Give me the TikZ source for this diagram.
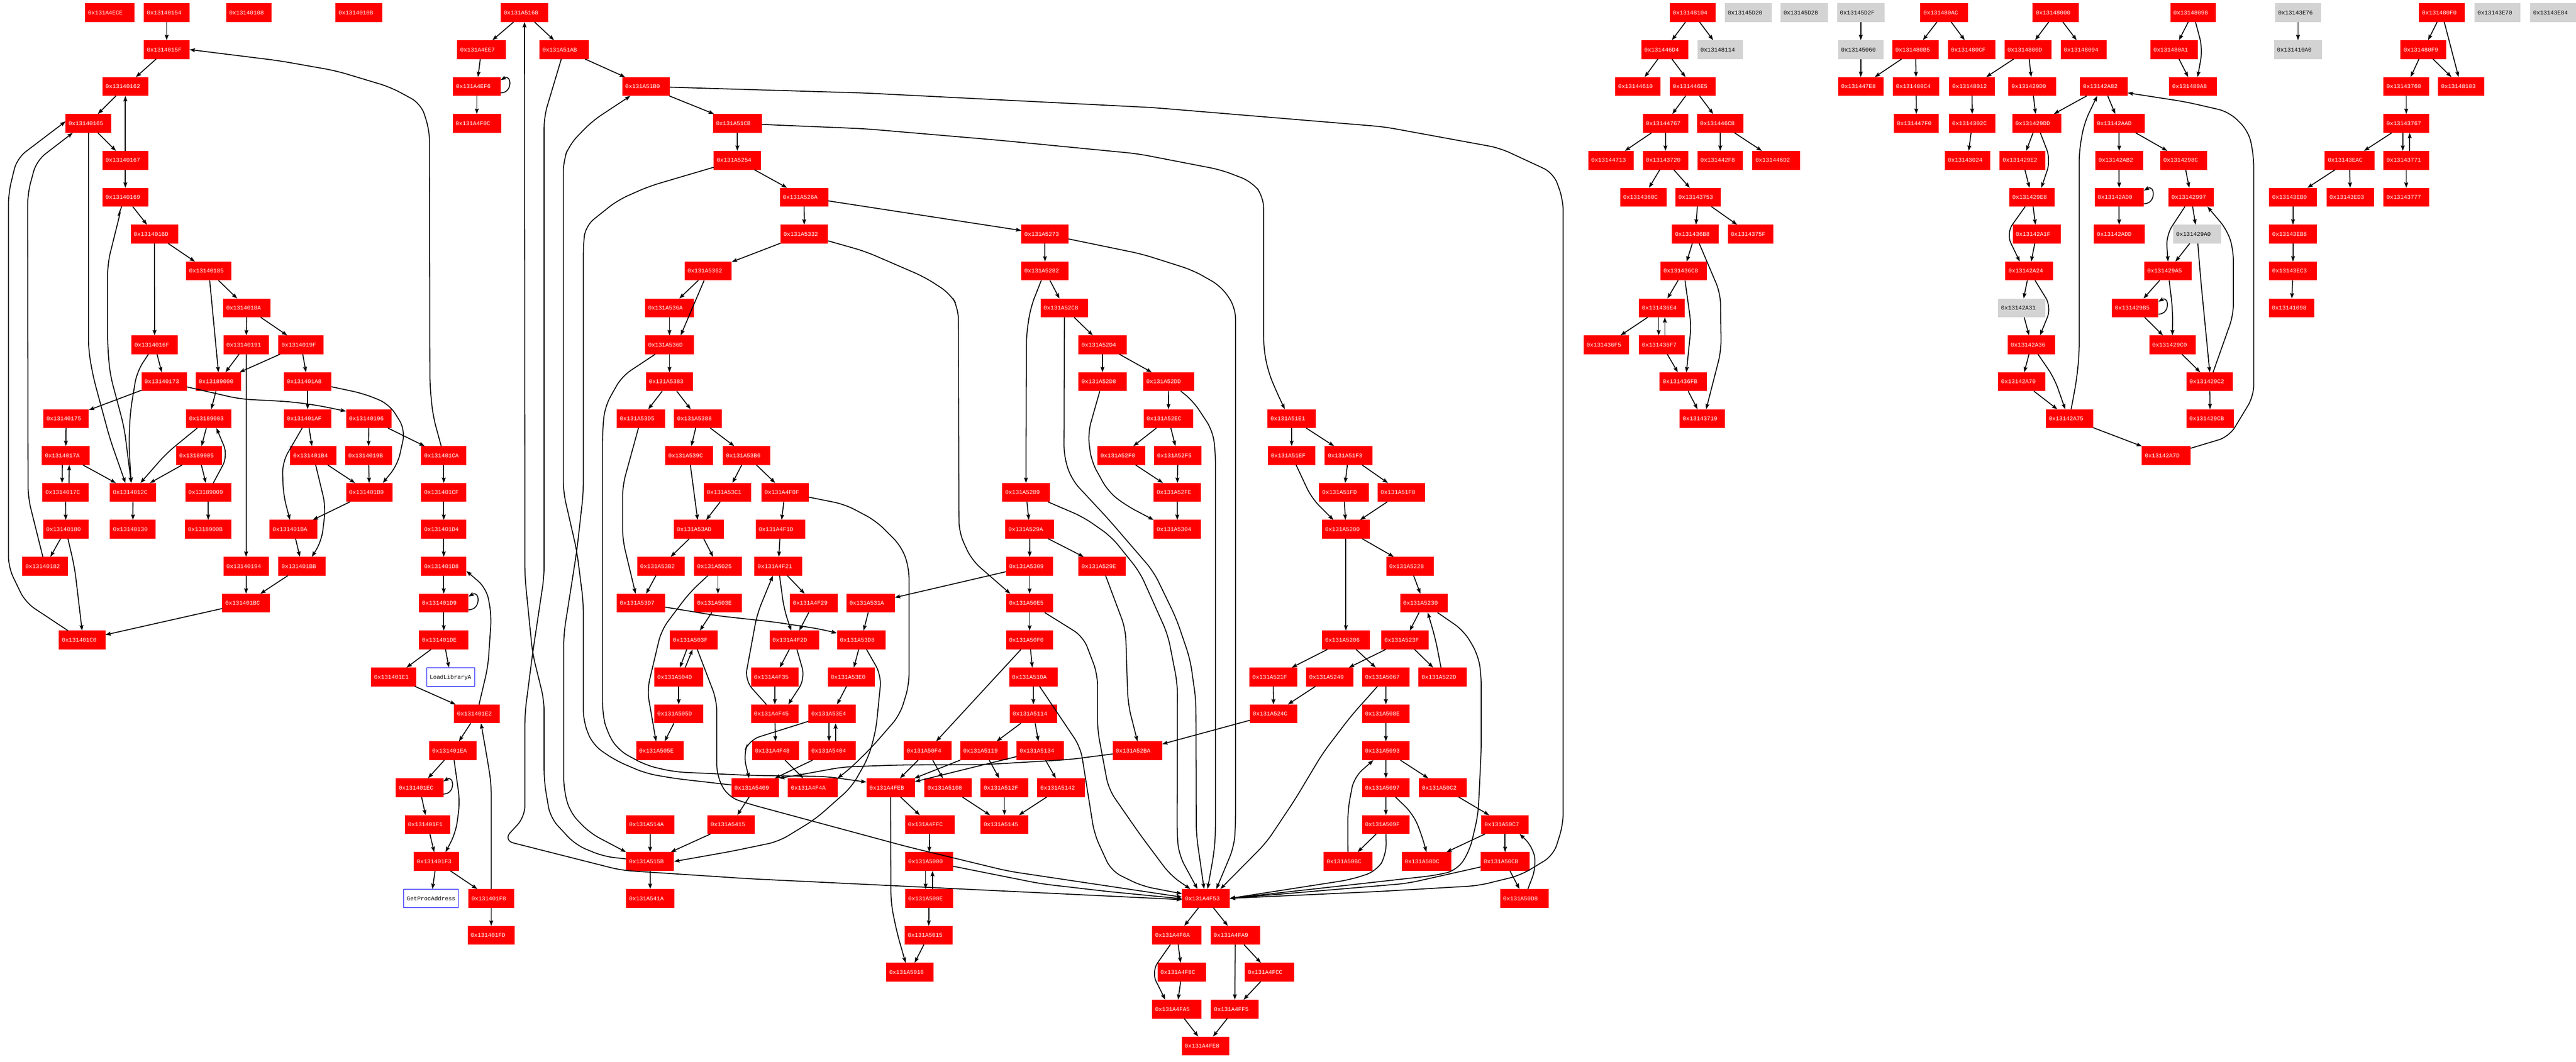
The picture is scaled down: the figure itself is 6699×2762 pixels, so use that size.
\documentclass[tikz,border=0pt]{standalone}
\usepackage{fontspec}
\setmonofont{Liberation Mono}
\usetikzlibrary{arrows.meta}
\definecolor{blockgray}{HTML}{D3D3D3}
\begin{document}
\begin{tikzpicture}[
      x=1pt,y=-1pt,
      blockbox/.style={
         rectangle,
         outer sep=0pt,
         inner xsep=8pt,
         inner ysep=0pt,
         minimum height=49pt,
         text width=#1pt-16pt,
         align=left,
         text height=10pt,
         text depth=0pt,
         font=\ttfamily\fontsize{15}{15}\selectfont
      },
      redbox/.style={blockbox=#1,fill=red,text=white},
      graybox/.style={blockbox=#1,fill=blockgray,text=black},
      whitebox/.style={blockbox=#1,fill=white,text=black,draw=blue,line width=0.8pt},
      >={Stealth[length=14pt,width=10pt,inset=2pt]},
      tip/.style={->,line width=2.4pt,draw=black},
      curvy/.style={tip,rounded corners=28pt},
      selfloop/.style={out=0,in=30,looseness=2.5}
    ]
    \useasboundingbox (0,0) rectangle (6699,2762);
    \node (nA4ECE) [redbox=129] at (285.5,33) {0x131A4ECE};
    \node (n40154) [redbox=119] at (433.5,33) {0x13140154};
    \node (n40108) [redbox=118] at (647,33) {0x13140108};
    \node (n4010B) [redbox=121] at (933,33) {0x1314010B};
    \node (n4015F) [redbox=119] at (433.5,129) {0x1314015F};
    \node (n40162) [redbox=119] at (326,225) {0x13140162};
    \node (n40165) [redbox=119] at (230,321) {0x13140165};
    \node (n40167) [redbox=119] at (326,417) {0x13140167};
    \node (n40169) [redbox=119] at (326,513) {0x13140169};
    \node (n4016D) [redbox=123] at (401.5,609) {0x1314016D};
    \node (n40185) [redbox=118] at (543,705) {0x13140185};
    \node (n4018A) [redbox=123] at (642,801) {0x1314018A};
    \node (n4016F) [redbox=120] at (402,897) {0x1314016F};
    \node (n40191) [redbox=118] at (640,897) {0x13140191};
    \node (n4019F) [redbox=118] at (783,897) {0x1314019F};
    \node (n40173) [redbox=118] at (427,993) {0x13140173};
    \node (n89000) [redbox=118] at (568,993) {0x13189000};
    \node (n401A8) [redbox=124] at (800,993) {0x131401A8};
    \node (n40175) [redbox=118] at (172,1089) {0x13140175};
    \node (n89003) [redbox=118] at (543,1089) {0x13189003};
    \node (n401AF) [redbox=124] at (800,1089) {0x131401AF};
    \node (n40196) [redbox=118] at (959,1089) {0x13140196};
    \node (n4017A) [redbox=124] at (171,1185) {0x1314017A};
    \node (n89005) [redbox=119] at (517.5,1185) {0x13189005};
    \node (n401B4) [redbox=121] at (815,1185) {0x131401B4};
    \node (n4019B) [redbox=121] at (958.5,1185) {0x1314019B};
    \node (n401CA) [redbox=118] at (1154,1185) {0x131401CA};
    \node (n4017C) [redbox=121] at (170.5,1281) {0x1314017C};
    \node (n4012C) [redbox=121] at (346,1281) {0x1314012C};
    \node (n89009) [redbox=119] at (541.5,1281) {0x13189009};
    \node (n401B9) [redbox=121] at (960.5,1281) {0x131401B9};
    \node (n401CF) [redbox=118] at (1154,1281) {0x131401CF};
    \node (n40180) [redbox=118] at (171,1377) {0x13140180};
    \node (n40130) [redbox=119] at (345.5,1377) {0x13140130};
    \node (n8900B) [redbox=121] at (541.5,1377) {0x1318900B};
    \node (n401BA) [redbox=124] at (763,1377) {0x131401BA};
    \node (n401D4) [redbox=118] at (1154,1377) {0x131401D4};
    \node (n40182) [redbox=119] at (117.5,1473) {0x13140182};
    \node (n40194) [redbox=118] at (640,1473) {0x13140194};
    \node (n401BB) [redbox=123] at (785.5,1473) {0x131401BB};
    \node (n401D8) [redbox=118] at (1154,1473) {0x131401D8};
    \node (n401BC) [redbox=124] at (640,1569) {0x131401BC};
    \node (n401D9) [redbox=129] at (1154,1569) {0x131401D9};
    \node (n401C0) [redbox=121] at (213.5,1665) {0x131401C0};
    \node (n401DE) [redbox=129] at (1154,1665) {0x131401DE};
    \node (n401E1) [redbox=118] at (1024,1761) {0x131401E1};
    \node (nLoadLib) [whitebox=125] at (1172,1761) {LoadLibraryA};
    \node (n401E2) [redbox=118] at (1240,1857) {0x131401E2};
    \node (n401EA) [redbox=123] at (1177.5,1953) {0x131401EA};
    \node (n401EC) [redbox=124] at (1091,2049) {0x131401EC};
    \node (n401F1) [redbox=118] at (1112,2145) {0x131401F1};
    \node (n401F3) [redbox=118] at (1135,2241) {0x131401F3};
    \node (nGetProc) [whitebox=142] at (1121,2337) {GetProcAddress};
    \node (n401F8) [redbox=119] at (1277.5,2337) {0x131401F8};
    \node (n401FD) [redbox=123] at (1277.5,2433) {0x131401FD};
    \node (nA5168) [redbox=124] at (1364,33) {0x131A5168};
    \node (nA4EE7) [redbox=126] at (1252,129) {0x131A4EE7};
    \node (nA51AB) [redbox=129] at (1467,129) {0x131A51AB};
    \node (nA4EF6) [redbox=124] at (1240,225) {0x131A4EF6};
    \node (nA51B0) [redbox=124] at (1680,225) {0x131A51B0};
    \node (nA4F0C) [redbox=126] at (1240,321) {0x131A4F0C};
    \node (nA51CB) [redbox=127] at (1917.5,321) {0x131A51CB};
    \node (nA5254) [redbox=123] at (1917.5,417) {0x131A5254};
    \node (nA526A) [redbox=126] at (2091,513) {0x131A526A};
    \node (nA5332) [redbox=124] at (2091.5,609) {0x131A5332};
    \node (nA5273) [redbox=123] at (2717.5,609) {0x131A5273};
    \node (nA5362) [redbox=123] at (1841.5,705) {0x131A5362};
    \node (nA5282) [redbox=123] at (2717.5,705) {0x131A5282};
    \node (nA536A) [redbox=127] at (1741,801) {0x131A536A};
    \node (nA52C8) [redbox=124] at (2768,801) {0x131A52C8};
    \node (nA536D) [redbox=127] at (1741,897) {0x131A536D};
    \node (nA52D4) [redbox=125] at (2867,897) {0x131A52D4};
    \node (nA5383) [redbox=123] at (1741,993) {0x131A5383};
    \node (nA52D8) [redbox=125] at (2867,993) {0x131A52D8};
    \node (nA52DD) [redbox=132] at (3039,993) {0x131A52DD};
    \node (nA53D5) [redbox=126] at (1667,1089) {0x131A53D5};
    \node (nA5388) [redbox=124] at (1815,1089) {0x131A5388};
    \node (nA52EC) [redbox=129] at (3038.5,1089) {0x131A52EC};
    \node (nA51E1) [redbox=126] at (3359,1089) {0x131A51E1};
    \node (nA539C) [redbox=124] at (1792,1185) {0x131A539C};
    \node (nA53B6) [redbox=123] at (1941.5,1185) {0x131A53B6};
    \node (nA52F0) [redbox=124] at (2916,1185) {0x131A52F0};
    \node (nA52F5) [redbox=124] at (3063,1185) {0x131A52F5};
    \node (nA51EF) [redbox=124] at (3359,1185) {0x131A51EF};
    \node (nA51F3) [redbox=124] at (3507,1185) {0x131A51F3};
    \node (nA53C1) [redbox=124] at (1892,1281) {0x131A53C1};
    \node (nA4F0F) [redbox=123] at (2041.5,1281) {0x131A4F0F};
    \node (nA5289) [redbox=124] at (2668,1281) {0x131A5289};
    \node (nA52FE) [redbox=123] at (3061.5,1281) {0x131A52FE};
    \node (nA51FD) [redbox=129] at (3495,1281) {0x131A51FD};
    \node (nA51F8) [redbox=124] at (3644.5,1281) {0x131A51F8};
    \node (nA53AD) [redbox=131] at (1817.5,1377) {0x131A53AD};
    \node (nA4F1D) [redbox=129] at (2029.5,1377) {0x131A4F1D};
    \node (nA529A) [redbox=127] at (2678,1377) {0x131A529A};
    \node (nA5304) [redbox=123] at (3061.5,1377) {0x131A5304};
    \node (nA5200) [redbox=124] at (3500,1377) {0x131A5200};
    \node (nA53B2) [redbox=124] at (1719,1473) {0x131A53B2};
    \node (nA5025) [redbox=124] at (1867,1473) {0x131A5025};
    \node (nA4F21) [redbox=124] at (2024,1473) {0x131A4F21};
    \node (nA5309) [redbox=123] at (2677.5,1473) {0x131A5309};
    \node (nA529E) [redbox=123] at (2866,1473) {0x131A529E};
    \node (nA5228) [redbox=124] at (3667,1473) {0x131A5228};
    \node (nA53D7) [redbox=126] at (1667,1569) {0x131A53D7};
    \node (nA503E) [redbox=124] at (1867,1569) {0x131A503E};
    \node (nA4F29) [redbox=124] at (2116,1569) {0x131A4F29};
    \node (nA531A) [redbox=126] at (2264,1569) {0x131A531A};
    \node (nA50E5) [redbox=123] at (2677.5,1569) {0x131A50E5};
    \node (nA5230) [redbox=124] at (3703,1569) {0x131A5230};
    \node (nA503F) [redbox=124] at (1804,1665) {0x131A503F};
    \node (nA4F2D) [redbox=129] at (2065.5,1665) {0x131A4F2D};
    \node (nA53D8) [redbox=126] at (2239.5,1665) {0x131A53D8};
    \node (nA50F0) [redbox=123] at (2677.5,1665) {0x131A50F0};
    \node (nA5206) [redbox=124] at (3500,1665) {0x131A5206};
    \node (nA523F) [redbox=123] at (3653.5,1665) {0x131A523F};
    \node (nA504D) [redbox=127] at (1765,1761) {0x131A504D};
    \node (nA4F35) [redbox=124] at (2015,1761) {0x131A4F35};
    \node (nA53E0) [redbox=123] at (2214,1761) {0x131A53E0};
    \node (nA510A) [redbox=126] at (2687,1761) {0x131A510A};
    \node (nA521F) [redbox=124] at (3311,1761) {0x131A521F};
    \node (nA5249) [redbox=123] at (3458,1761) {0x131A5249};
    \node (nA5067) [redbox=124] at (3604,1761) {0x131A5067};
    \node (nA522D) [redbox=126] at (3752,1761) {0x131A522D};
    \node (nA505D) [redbox=127] at (1765,1857) {0x131A505D};
    \node (nA4F45) [redbox=124] at (2015,1857) {0x131A4F45};
    \node (nA53E4) [redbox=124] at (2164,1857) {0x131A53E4};
    \node (nA5114) [redbox=124] at (2687.5,1857) {0x131A5114};
    \node (nA524C) [redbox=124] at (3312,1857) {0x131A524C};
    \node (nA508E) [redbox=124] at (3604,1857) {0x131A508E};
    \node (nA505E) [redbox=124] at (1716,1953) {0x131A505E};
    \node (nA4F48) [redbox=123] at (2017,1953) {0x131A4F48};
    \node (nA5404) [redbox=124] at (2164,1953) {0x131A5404};
    \node (nA50F4) [redbox=124] at (2412,1953) {0x131A50F4};
    \node (nA5119) [redbox=124] at (2559,1953) {0x131A5119};
    \node (nA5134) [redbox=123] at (2705,1953) {0x131A5134};
    \node (nA52BA) [redbox=129] at (2958,1953) {0x131A52BA};
    \node (nA5093) [redbox=124] at (3604,1953) {0x131A5093};
    \node (nA5409) [redbox=124] at (1964,2049) {0x131A5409};
    \node (nA4F4A) [redbox=129] at (2113.5,2049) {0x131A4F4A};
    \node (nA4FEB) [redbox=126] at (2316,2049) {0x131A4FEB};
    \node (nA5108) [redbox=123] at (2465.5,2049) {0x131A5108};
    \node (nA512F) [redbox=124] at (2612,2049) {0x131A512F};
    \node (nA5142) [redbox=124] at (2759.5,2049) {0x131A5142};
    \node (nA5097) [redbox=124] at (3604,2049) {0x131A5097};
    \node (nA50C2) [redbox=124] at (3752,2049) {0x131A50C2};
    \node (nA514A) [redbox=126] at (1691,2145) {0x131A514A};
    \node (nA5415) [redbox=123] at (1901.5,2145) {0x131A5415};
    \node (nA4FFC) [redbox=129] at (2418,2145) {0x131A4FFC};
    \node (nA5145) [redbox=124] at (2612,2145) {0x131A5145};
    \node (nA509F) [redbox=124] at (3604,2145) {0x131A509F};
    \node (nA50C7) [redbox=123] at (3914,2145) {0x131A50C7};
    \node (nA515B) [redbox=125] at (1690.5,2241) {0x131A515B};
    \node (nA5000) [redbox=124] at (2416,2241) {0x131A5000};
    \node (nA50BC) [redbox=127] at (3505.5,2241) {0x131A50BC};
    \node (nA50DC) [redbox=129] at (3709.5,2241) {0x131A50DC};
    \node (nA50CB) [redbox=127] at (3914,2241) {0x131A50CB};
    \node (nA541A) [redbox=126] at (1691,2337) {0x131A541A};
    \node (nA500E) [redbox=124] at (2416,2337) {0x131A500E};
    \node (nA4F53) [redbox=124] at (3136,2337) {0x131A4F53};
    \node (nA50D8) [redbox=126] at (3964,2337) {0x131A50D8};
    \node (nA5015) [redbox=124] at (2415,2433) {0x131A5015};
    \node (nA4F6A) [redbox=129] at (3060.5,2433) {0x131A4F6A};
    \node (nA4FA9) [redbox=129] at (3212.5,2433) {0x131A4FA9};
    \node (nA5016) [redbox=123] at (2366,2529) {0x131A5016};
    \node (nA4F8C) [redbox=127] at (3073.5,2529) {0x131A4F8C};
    \node (nA4FCC) [redbox=129] at (3301.5,2529) {0x131A4FCC};
    \node (nA4FA5) [redbox=129] at (3060.5,2625) {0x131A4FA5};
    \node (nA4FF5) [redbox=124] at (3211,2625) {0x131A4FF5};
    \node (nA4FE8) [redbox=124] at (3135,2721) {0x131A4FE8};
    \node (n48104) [redbox=119] at (4401.5,33) {0x13148104};
    \node (n45D20) [graybox=122] at (4546,33) {0x13145D20};
    \node (n45D28) [graybox=124] at (4692,33) {0x13145D28};
    \node (n45D2F) [graybox=124] at (4839,33) {0x13145D2F};
    \node (n480AC) [redbox=124] at (5056,33) {0x131480AC};
    \node (n48000) [redbox=120] at (5346,33) {0x13148000};
    \node (n48098) [redbox=118] at (5703,33) {0x13148098};
    \node (n43E76) [graybox=119] at (5976,33) {0x13143E76};
    \node (n480F0) [redbox=119] at (6350,33) {0x131480F0};
    \node (n43E70) [graybox=119] at (6494.5,33) {0x13143E70};
    \node (n43E84) [graybox=119] at (6639,33) {0x13143E84};
    \node (n446D4) [redbox=123] at (4329.5,129) {0x131446D4};
    \node (n48114) [graybox=119] at (4473.5,129) {0x13148114};
    \node (n45060) [graybox=118] at (4839,129) {0x13145060};
    \node (n480B5) [redbox=121] at (4981.5,129) {0x131480B5};
    \node (n480CF) [redbox=124] at (5127.5,129) {0x131480CF};
    \node (n4800D) [redbox=123] at (5274,129) {0x1314800D};
    \node (n48094) [redbox=120] at (5419,129) {0x13148094};
    \node (n480A1) [redbox=124] at (5654,129) {0x131480A1};
    \node (n410A0) [graybox=125] at (5976,129) {0x131410A0};
    \node (n480F9) [redbox=119] at (6302,129) {0x131480F9};
    \node (n44610) [redbox=118] at (4259,225) {0x13144610};
    \node (n446E5) [redbox=119] at (4401.5,225) {0x131446E5};
    \node (n447E8) [redbox=118] at (4839,225) {0x131447E8};
    \node (n480C4) [redbox=121] at (4983,225) {0x131480C4};
    \node (n48012) [redbox=118] at (5128,225) {0x13148012};
    \node (n429D0) [redbox=124] at (5285,225) {0x131429D0};
    \node (n42A82) [redbox=124] at (5471,225) {0x13142A82};
    \node (n480A8) [redbox=124] at (5703,225) {0x131480A8};
    \node (n43760) [redbox=119] at (6257.5,225) {0x13143760};
    \node (n48103) [redbox=120] at (6400,225) {0x13148103};
    \node (n44767) [redbox=118] at (4331,321) {0x13144767};
    \node (n446C8) [redbox=121] at (4473.5,321) {0x131446C8};
    \node (n447F0) [redbox=117] at (4983.5,321) {0x131447F0};
    \node (n4302C) [redbox=121] at (5129,321) {0x1314302C};
    \node (n429DD) [redbox=127] at (5296.5,321) {0x131429DD};
    \node (n42AAD) [redbox=132] at (5511,321) {0x13142AAD};
    \node (n43767) [redbox=119] at (6257.5,321) {0x13143767};
    \node (n44713) [redbox=119] at (4189.5,417) {0x13144713};
    \node (n43720) [redbox=118] at (4331,417) {0x13143720};
    \node (n442F8) [redbox=119] at (4473.5,417) {0x131442F8};
    \node (n446D2) [redbox=124] at (4619,417) {0x131446D2};
    \node (n43024) [redbox=118] at (5116.5,417) {0x13143024};
    \node (n429E2) [redbox=119] at (5259.5,417) {0x131429E2};
    \node (n42AB2) [redbox=124] at (5511,417) {0x13142AB2};
    \node (n4298C) [redbox=122] at (5679,417) {0x1314298C};
    \node (n43EAC) [redbox=129] at (6110,417) {0x13143EAC};
    \node (n43771) [redbox=119] at (6257.5,417) {0x13143771};
    \node (n4360C) [redbox=121] at (4273.5,513) {0x1314360C};
    \node (n43753) [redbox=118] at (4416,513) {0x13143753};
    \node (n429E8) [redbox=118] at (5284,513) {0x131429E8};
    \node (n42AD0) [redbox=128] at (5511,513) {0x13142AD0};
    \node (n42997) [redbox=118] at (5698,513) {0x13142997};
    \node (n43EB0) [redbox=124] at (5963,513) {0x13143EB0};
    \node (n43ED3) [redbox=124] at (6112,513) {0x13143ED3};
    \node (n43777) [redbox=119] at (6257.5,513) {0x13143777};
    \node (n436B8) [redbox=121] at (4408.5,609) {0x131436B8};
    \node (n4375F) [redbox=118] at (4552,609) {0x1314375F};
    \node (n42A1F) [redbox=125] at (5296.5,609) {0x13142A1F};
    \node (n42ADD) [redbox=132] at (5511,609) {0x13142ADD};
    \node (n429A0) [graybox=125] at (5713.5,609) {0x131429A0};
    \node (n43EB8) [redbox=124] at (5963,609) {0x13143EB8};
    \node (n436C8) [redbox=121] at (4378.5,705) {0x131436C8};
    \node (n42A24) [redbox=124] at (5277,705) {0x13142A24};
    \node (n429A5) [redbox=124] at (5638,705) {0x131429A5};
    \node (n43EC3) [redbox=124] at (5963,705) {0x13143EC3};
    \node (n436E4) [redbox=119] at (4321.5,801) {0x131436E4};
    \node (n42A31) [graybox=123] at (5257.5,801) {0x13142A31};
    \node (n429B5) [redbox=121] at (5552.5,801) {0x131429B5};
    \node (n41098) [redbox=118] at (5959,801) {0x13141098};
    \node (n436F5) [redbox=119] at (4177.5,897) {0x131436F5};
    \node (n436F7) [redbox=119] at (4321.5,897) {0x131436F7};
    \node (n42A36) [redbox=124] at (5283,897) {0x13142A36};
    \node (n429C0) [redbox=121] at (5649.5,897) {0x131429C0};
    \node (n436FB) [redbox=123] at (4377.5,993) {0x131436FB};
    \node (n42A70) [redbox=123] at (5257.5,993) {0x13142A70};
    \node (n429C2) [redbox=121] at (5746.5,993) {0x131429C2};
    \node (n43719) [redbox=118] at (4427,1089) {0x13143719};
    \node (n42A75) [redbox=123] at (5381.5,1089) {0x13142A75};
    \node (n429CB) [redbox=124] at (5747.5,1089) {0x131429CB};
    \node (n42A7D) [redbox=127] at (5633.5,1185) {0x13142A7D};
    \draw[tip] (n40154) -- (n4015F);
    \draw[tip] (n4015F) -- (n40162);
    \draw[tip] (n40162) -- (n40165);
    \draw[tip] (n40165) -- (n40167);
    \draw[tip] (n40167) -- (n40162);
    \draw[tip] (n40167) -- (n40169);
    \draw[tip] (n40169) -- (n4016D);
    \draw[tip] (n4016D) -- (n4016F);
    \draw[tip] (n4016D) -- (n40185);
    \draw[tip] (n40185) -- (n4018A);
    \draw[tip] (n40185) -- (n89000.north);
    \draw[tip] (n4018A) -- (n40191);
    \draw[tip] (n4018A) -- (n4019F);
    \draw[tip] (n4016F) -- (n40173);
    \draw[tip] (n40191) -- (n89000);
    \draw[tip] (n40191) -- (n40194);
    \draw[tip] (n4019F) -- (n89000);
    \draw[tip] (n4019F) -- (n401A8);
    \draw[tip] (n40173) -- (n40175);
    \draw[tip] (n89000) -- (n89003);
    \draw[tip] (n401A8) -- (n401AF);
    \draw[tip] (n40175) -- (n4017A);
    \draw[tip] ([xshift=-9pt]n4017A.south) -- ([xshift=-9pt]n4017C.north);
    \draw[tip] ([xshift=9pt]n4017C.north) -- ([xshift=9pt]n4017A.south);
    \draw[tip] (n4017A) -- (n4012C);
    \draw[tip] (n4017C) -- (n40180);
    \draw[tip] (n40180) -- (n40182);
    \draw[tip] (n89003) -- (n89005);
    \draw[tip] (n89005) -- (n4012C);
    \draw[tip] (n89005) -- (n89009);
    \draw[tip] (n89009) -- (n8900B);
    \draw[tip] (n4012C) -- (n40130);
    \draw[tip] (n401AF) -- (n401B4);
    \draw[tip] (n40196) -- (n4019B);
    \draw[tip] (n40196) -- (n401CA);
    \draw[tip] (n4019B) -- (n401B9);
    \draw[tip] (n401B4) -- (n401B9);
    \draw[tip] (n401B9) -- (n401BA);
    \draw[tip] (n401BA) -- (n401BB);
    \draw[tip] (n40194) -- (n401BC);
    \draw[tip] (n401BB) -- (n401BC);
    \draw[tip] (n401BC) -- (n401C0);
    \draw[tip] (n401CA) -- (n401CF);
    \draw[tip] (n401CF) -- (n401D4);
    \draw[tip] (n401D4) -- (n401D8);
    \draw[tip] (n401D8) -- (n401D9);
    \draw[tip] (n401D9.-15) to[selfloop] (n401D9.15);
    \draw[tip] (n401D9) -- (n401DE);
    \draw[tip] (n401DE) -- (n401E1);
    \draw[tip] (n401DE) -- (nLoadLib);
    \draw[tip] (n401E1) -- (n401E2);
    \draw[tip] (n401E2) -- (n401EA);
    \draw[tip] (n401EA) -- (n401EC);
    \draw[tip] (n401EC.-15) to[selfloop] (n401EC.15);
    \draw[tip] (n401EC) -- (n401F1);
    \draw[tip] (n401F1) -- (n401F3);
    \draw[tip] (n401F3) -- (nGetProc);
    \draw[tip] (n401F3) -- (n401F8);
    \draw[tip] (n401F8) -- (n401FD);
    \draw[curvy] (n40169) -- (317,536) -- (280,685) -- (280,900) -- (286,973) -- (323,1112) -- (n4012C.101);
    \draw[curvy] (n40165) -- (230,909) -- (242,979) -- (286,1142) -- (n4012C.129);
    \draw[curvy] (n4016F) -- (356,967) -- (339,1070) -- (335,1155) -- (n4012C.101);
    \draw[curvy] (n40173) -- (624,1038) -- (756,1045) -- (829,1055) -- (n40196.162);
    \draw[curvy] (n401A8) -- (946,1024) -- (1012,1051) -- (1054,1118) -- (1034,1209) -- (n401B9.35);
    \draw[curvy] (n401AF) -- (734,1203) -- (737,1288) -- (n401BA.110);
    \draw[curvy] (n401B4) -- (847,1318) -- (836,1409) -- (n401BB.44);
    \draw[curvy] (n40180) -- (194,1476) -- (n401C0.north);
    \draw[curvy] (n40182) -- (73,1294) -- (72,503) -- (95,418) -- (n40165.211);
    \draw[curvy] (n401C0) -- (66,1567) -- (22,1476) -- (22,503) -- (44,412) -- (n40165.175);
    \draw[curvy] (n89003) -- (433,1179) -- (n4012C.52);
    \draw[curvy] (n89009) -- (593,1185) -- (n89003.-51);
    \draw[curvy] (n401CA) -- (1126,1082) -- (1118,1003) -- (1117,340) -- (1095,270) -- (1016,227) -- (873,184) -- (726,158) -- (n4015F.east);
    \draw[curvy] (n401EA) -- (1196,2086) -- (1185,2167) -- (n401F3.46);
    \draw[curvy] (n401E2) -- (1269,1734) -- (1278,1600) -- (1265,1530) -- (n401D8.-12);
    \draw[curvy] (n401F8) -- (1277.5,2039) -- (1269,1985) -- (n401E2.-66);
    \draw[tip] (nA5168) -- (nA4EE7);
    \draw[tip] (nA5168) -- (nA51AB);
    \draw[tip] (nA4EE7) -- (nA4EF6);
    \draw[tip] (nA4EF6.-15) to[selfloop] (nA4EF6.15);
    \draw[tip] (nA4EF6) -- (nA4F0C);
    \draw[tip] (nA51AB) -- (nA51B0);
    \draw[tip] (nA51B0) -- (nA51CB);
    \draw[tip] (nA51CB) -- (nA5254);
    \draw[tip] (nA5254) -- (nA526A);
    \draw[tip] (nA526A) -- (nA5332);
    \draw[tip] (nA526A) -- (nA5273);
    \draw[tip] (nA5332) -- (nA5362);
    \draw[tip] (nA5362) -- (nA536A);
    \draw[tip] (nA5362) -- (nA536D.40);
    \draw[tip] (nA536A) -- (nA536D);
    \draw[tip] (nA536D) -- (nA5383);
    \draw[tip] (nA5383) -- (nA53D5);
    \draw[tip] (nA5383) -- (nA5388);
    \draw[tip] (nA5388) -- (nA539C);
    \draw[tip] (nA5388) -- (nA53B6);
    \draw[tip] (nA53B6) -- (nA53C1);
    \draw[tip] (nA53B6) -- (nA4F0F);
    \draw[tip] (nA539C) -- (nA53AD);
    \draw[tip] (nA53C1) -- (nA53AD);
    \draw[tip] (nA4F0F) -- (nA4F1D);
    \draw[tip] (nA4F1D) -- (nA4F21);
    \draw[tip] (nA4F21) -- (nA4F29);
    \draw[tip] (nA4F29) -- (nA4F2D);
    \draw[tip] (nA4F2D) -- (nA4F35);
    \draw[tip] (nA4F35) -- (nA4F45);
    \draw[tip] (nA4F45) -- (nA4F48);
    \draw[tip] (nA4F48) -- (nA4F4A);
    \draw[tip] (nA53AD) -- (nA53B2);
    \draw[tip] (nA53AD) -- (nA5025);
    \draw[tip] (nA53B2) -- (nA53D7);
    \draw[tip] (nA5025) -- (nA503E);
    \draw[tip] (nA503E) -- (nA503F);
    \draw[tip] ([xshift=-18pt]nA503F.south) -- ([xshift=3pt]nA504D.north);
    \draw[tip] ([xshift=17pt]nA504D.north) -- ([xshift=-3pt]nA503F.south);
    \draw[tip] (nA504D) -- (nA505D);
    \draw[tip] (nA505D) -- (nA505E);
    \draw[tip] (nA5309) -- (nA531A);
    \draw[tip] (nA531A) -- (nA53D8);
    \draw[tip] (nA53D8) -- (nA53E0);
    \draw[tip] (nA53E0) -- (nA53E4);
    \draw[tip] ([xshift=-8pt]nA53E4.south) -- ([xshift=-8pt]nA5404.north);
    \draw[tip] ([xshift=9pt]nA5404.north) -- ([xshift=9pt]nA53E4.south);
    \draw[tip] (nA5404) -- (nA5409);
    \draw[tip] (nA5409) -- (nA5415);
    \draw[tip] (nA5415) -- (nA515B);
    \draw[tip] (nA514A) -- (nA515B);
    \draw[tip] (nA515B) -- (nA541A);
    \draw[tip] (nA5273) -- (nA5282);
    \draw[tip] (nA5282) -- (nA52C8);
    \draw[tip] (nA52C8) -- (nA52D4);
    \draw[tip] (nA52D4) -- (nA52D8);
    \draw[tip] (nA52D4) -- (nA52DD);
    \draw[tip] (nA52DD) -- (nA52EC);
    \draw[tip] (nA52EC) -- (nA52F0);
    \draw[tip] (nA52EC) -- (nA52F5);
    \draw[tip] (nA52F0) -- (nA52FE);
    \draw[tip] (nA52F5) -- (nA52FE);
    \draw[tip] (nA52FE) -- (nA5304);
    \draw[tip] (nA5289) -- (nA529A);
    \draw[tip] (nA529A) -- (nA5309);
    \draw[tip] (nA529A) -- (nA529E);
    \draw[tip] (nA5309) -- (nA50E5);
    \draw[tip] (nA50E5) -- (nA50F0);
    \draw[tip] (nA50F0) -- (nA510A);
    \draw[tip] (nA50F0) -- (nA50F4);
    \draw[tip] (nA510A) -- (nA5114);
    \draw[tip] (nA5114) -- (nA5119);
    \draw[tip] (nA5114) -- (nA5134);
    \draw[tip] (nA50F4) -- (nA4FEB);
    \draw[tip] (nA50F4) -- (nA5108);
    \draw[tip] (nA5119) -- (nA4FEB);
    \draw[tip] (nA5119) -- (nA512F);
    \draw[tip] (nA5134) -- (nA4FEB);
    \draw[tip] (nA5134) -- (nA5142);
    \draw[tip] (nA5108) -- (nA5145);
    \draw[tip] (nA512F) -- (nA5145);
    \draw[tip] (nA5142) -- (nA5145);
    \draw[tip] (nA4FEB) -- (nA4FFC);
    \draw[tip] (nA4FFC) -- (nA5000);
    \draw[tip] ([xshift=-9pt]nA5000.south) -- ([xshift=-9pt]nA500E.north);
    \draw[tip] ([xshift=9pt]nA500E.north) -- ([xshift=9pt]nA5000.south);
    \draw[tip] (nA500E) -- (nA5015);
    \draw[tip] (nA5015) -- (nA5016);
    \draw[tip] (nA524C) -- (nA52BA);
    \draw[tip] (nA51E1) -- (nA51EF);
    \draw[tip] (nA51E1) -- (nA51F3);
    \draw[tip] (nA51F3) -- (nA51FD);
    \draw[tip] (nA51F3) -- (nA51F8);
    \draw[tip] (nA51FD) -- (nA5200);
    \draw[tip] (nA51F8) -- (nA5200);
    \draw[tip] (nA5200) -- (nA5206);
    \draw[tip] (nA5200) -- (nA5228);
    \draw[tip] (nA5228) -- (nA5230);
    \draw[tip] (nA5230) -- (nA523F);
    \draw[tip] (nA523F) -- (nA5249);
    \draw[tip] (nA523F) -- (nA522D);
    \draw[tip] (nA5206) -- (nA521F);
    \draw[tip] (nA5206) -- (nA5067);
    \draw[tip] (nA521F) -- (nA524C);
    \draw[tip] (nA5249) -- (nA524C);
    \draw[tip] (nA5067) -- (nA508E);
    \draw[tip] (nA508E) -- (nA5093);
    \draw[tip] (nA5093) -- (nA5097);
    \draw[tip] (nA5093) -- (nA50C2);
    \draw[tip] (nA5097) -- (nA509F);
    \draw[tip] (nA509F) -- (nA50BC);
    \draw[tip] (nA50C2) -- (nA50C7);
    \draw[tip] (nA50C7) -- (nA50CB);
    \draw[tip] (nA50C7) -- (nA50DC);
    \draw[tip] (nA50CB) -- (nA50D8);
    \draw[tip] (nA4F53) -- (nA4F6A);
    \draw[tip] (nA4F53) -- (nA4FA9);
    \draw[tip] (nA4F6A) -- (nA4F8C);
    \draw[tip] (nA4F8C) -- (nA4FA5);
    \draw[tip] (nA4FA9) -- (nA4FF5);
    \draw[tip] (nA4FA9) -- (nA4FCC);
    \draw[tip] (nA4FCC) -- (nA4FF5);
    \draw[tip] (nA4FA5) -- (nA4FE8);
    \draw[tip] (nA4FF5) -- (nA4FE8);
    \draw[curvy] (nA51AB) -- (1415,303) -- (1415,1500) -- (1385,1700) -- (1365,1856) -- (1365,2125) -- (1308,2186) -- (1616,2264) -- (1950,2286) -- (nA4F53.183);
    \draw[curvy] (nA515B) -- (1570,2228) -- (1497,2198) -- (1431,2127) -- (1415,2032) -- (1415,1822) -- (1385,1700) -- (1365,1500) -- (nA5168.south);
    \draw[curvy] (nA5254) -- (1687,485) -- (1606,521) -- (1522,588) -- (1517,640) -- (1517,1282) -- (1500,1433) -- (1466,1650) -- (1466,2052) -- (1482,2113) -- (1534,2167) -- (nA515B.north west);
    \draw[curvy] (nA5409) -- (1754,2025) -- (1680,2012) -- (1600,1978) -- (1541,1937) -- (1517,1876) -- (1517,1567) -- (1500,1433) -- (1465,1280) -- (1465,418) -- (1481,376) -- (1540,315) -- (nA51B0.211);
    \draw[curvy] (nA536D) -- (1617,979) -- (1573,1058) -- (1567,1120) -- (1567,1856) -- (1578,1903) -- (1607,1951) -- (1680,1991) -- (1754,2008) -- (1950,2017) -- (2149,2020) -- (nA4FEB.167);
    \draw[curvy] (nA4F0F) -- (2197,1312) -- (2278,1355) -- (2344,1421) -- (2364,1476) -- (2364,1782) -- (2340,1860) -- (2267,1944) -- (2208,2002) -- (nA4F4A.north east);
    \draw[curvy] (nA53D8) -- (2292,1757) -- (2278,1898) -- (2259,1969) -- (2215,2047) -- (2120,2131) -- (2025,2189) -- (1900,2215) -- (nA515B.east);
    \draw[curvy] (nA53E4) -- (1948,1925) -- (1933,1963) -- (nA5409.123);
    \draw[curvy] (nA52BA) -- (2780,1976) -- (2560,1989) -- (2340,1990) -- (2193,1995) -- (2083,2015) -- (nA5409.north east);
    \draw[curvy] (nA4FEB) -- (2317,2350) -- (2333,2428) -- (nA5016.114);
    \draw[curvy] (nA5000) -- (2707,2299) -- (2880,2319) -- (nA4F53.181);
    \draw[curvy] (nA503F) -- (1864,1822) -- (1864,2018) -- (1893,2073) -- (1950,2092) -- (2357,2202) -- (2621,2266) -- (nA4F53.177);
    \draw[curvy] (nA5025) -- (1793,1542) -- (1720,1639) -- (1683,1795) -- (nA505E.112);
    \draw[curvy] (nA53D5) -- (1619,1264) -- (1619,1403) -- (nA53D7.120);
    \draw[curvy] (nA53D7) -- (1867,1602) -- (2013,1618) -- (2131,1636) -- (nA53D8.164);
    \draw[curvy] (nA4F45) -- (1937,1770) -- (1969,1597) -- (nA4F21.-120);
    \draw[curvy] (nA4F21) -- (2039,1585) -- (nA4F2D.108);
    \draw[curvy] (nA4F2D) -- (2094,1765) -- (nA4F45.35);
    \draw[curvy] (nA5273) -- (2970,661) -- (3102,703) -- (3176,745) -- (3213,800) -- (3213,2150) -- (3209,2203) -- (nA4F53.42);
    \draw[curvy] (nA52DD) -- (3102,1042) -- (3154,1121) -- (3161,1182) -- (3161,2160) -- (3158,2213) -- (nA4F53.80);
    \draw[curvy] (nA52C8) -- (2767,1188) -- (2787,1248) -- (2882,1350) -- (3000,1487) -- (3059,1609) -- (3095,1715) -- (3110,1821) -- (3111,2171) -- (nA4F53.101);
    \draw[curvy] (nA5289) -- (2817,1345) -- (2890,1396) -- (2964,1488) -- (3037,1651) -- (3062,1779) -- (3061,2171) -- (3066,2224) -- (nA4F53.132);
    \draw[curvy] (nA50E5) -- (2817,1656) -- (2854,1753) -- (2854,1898) -- (2883,2053) -- (2964,2170) -- (3044,2277) -- (nA4F53.149);
    \draw[curvy] (nA510A) -- (2810,1944) -- (2846,2170) -- (2890,2266) -- (2970,2305) -- (nA4F53.169);
    \draw[curvy] (nA529E) -- (2927,1636) -- (2931,1763) -- (2934,1834) -- (nA52BA.north);
    \draw[curvy] (nA52D8) -- (2829,1127) -- (2838,1200) -- (2882,1279) -- (2927,1314) -- (nA5304.north west);
    \draw[curvy] (nA5282) -- (2680,800) -- (2669,873) -- (nA5289.north);
    \draw[curvy] (nA51CB) -- (2250,335) -- (2600,365) -- (2959,400) -- (3176,442) -- (3256,473) -- (3286,512) -- (3286,903) -- (3297,964) -- (3319,1018) -- (nA51E1.126);
    \draw[curvy] (nA51B0) -- (2250,242) -- (3000,280) -- (3600,330) -- (3900,385) -- (4040,450) -- (4065,520) -- (4065,2144) -- (4040,2225) -- (3954,2277) -- (3844,2304) -- (3587,2319) -- (nA4F53.east);
    \draw[curvy] (nA5332) -- (2250,654) -- (2405,721) -- (2471,764) -- (2492,800) -- (2494,1385) -- (2527,1457) -- (nA50E5.154);
    \draw[curvy] (nA5230) -- (3807,1641) -- (3844,1704) -- (3852,1757) -- (3852,1948) -- (3844,2118) -- (3822,2213) -- (3789,2264) -- (3734,2277) -- (nA4F53.east);
    \draw[curvy] (nA509F) -- (3605,2224) -- (3580,2266) -- (3513,2288) -- (nA4F53.east);
    \draw[curvy] (nA50CB) -- (3660,2298) -- (nA4F53.east);
    \draw[curvy] (nA5067) -- (3513,1863) -- (3440,1959) -- (3367,2081) -- (3293,2192) -- (nA4F53.33);
    \draw[curvy] (nA50BC) -- (3505,2107) -- (3521,2022) -- (nA5093.-143);
    \draw[curvy] (nA5097) -- (3675,2118) -- (3697,2171) -- (nA50DC.north);
    \draw[curvy] (nA50D8) -- (3995,2256) -- (3987,2203) -- (nA50C7.-33);
    \draw[curvy] (nA522D) -- (3733,1662) -- (nA5230.-68);
    \draw[curvy] (nA51EF) -- (3411,1296) -- (nA5200.143);
    \draw[curvy] (nA4F6A) -- (2994,2528) -- (nA4FA5.141);
    \draw[tip] (n48104) -- (n446D4);
    \draw[tip] (n48104) -- (n48114);
    \draw[tip] (n446D4) -- (n44610);
    \draw[tip] (n446D4) -- (n446E5);
    \draw[tip] (n446E5) -- (n44767);
    \draw[tip] (n446E5) -- (n446C8);
    \draw[tip] (n44767) -- (n44713);
    \draw[tip] (n44767) -- (n43720);
    \draw[tip] (n446C8) -- (n442F8);
    \draw[tip] (n446C8) -- (n446D2);
    \draw[tip] (n43720) -- (n4360C);
    \draw[tip] (n43720) -- (n43753);
    \draw[tip] (n43753) -- (n436B8);
    \draw[tip] (n43753) -- (n4375F);
    \draw[tip] (n436B8) -- (n436C8);
    \draw[tip] (n436C8) -- (n436E4);
    \draw[tip] (n436E4) -- (n436F5);
    \draw[tip] ([xshift=-8pt]n436E4.south) -- ([xshift=-8pt]n436F7.north);
    \draw[tip] ([xshift=8pt]n436F7.north) -- ([xshift=8pt]n436E4.south);
    \draw[tip] (n436F7) -- (n436FB);
    \draw[tip] (n436FB) -- (n43719);
    \draw[tip] (n45D2F) -- (n45060);
    \draw[tip] (n45060) -- (n447E8);
    \draw[tip] (n480B5) -- (n447E8);
    \draw[tip] (n480AC) -- (n480B5);
    \draw[tip] (n480AC) -- (n480CF);
    \draw[tip] (n480B5) -- (n480C4);
    \draw[tip] (n480C4) -- (n447F0);
    \draw[tip] (n48000) -- (n4800D);
    \draw[tip] (n48000) -- (n48094);
    \draw[tip] (n4800D) -- (n48012);
    \draw[tip] (n4800D) -- (n429D0);
    \draw[tip] (n48012) -- (n4302C);
    \draw[tip] (n4302C) -- (n43024);
    \draw[tip] (n429D0) -- (n429DD);
    \draw[tip] (n429DD) -- (n429E2);
    \draw[tip] (n429E2) -- (n429E8);
    \draw[tip] (n429E8) -- (n42A1F);
    \draw[tip] (n42A1F) -- (n42A24);
    \draw[tip] (n42A24) -- (n42A31);
    \draw[tip] (n42A31) -- (n42A36);
    \draw[tip] (n42A36) -- (n42A70);
    \draw[tip] (n42A70) -- (n42A75);
    \draw[tip] (n42A75) -- (n42A7D);
    \draw[tip] (n42A82) -- (n429DD);
    \draw[tip] (n42A82) -- (n42AAD);
    \draw[tip] (n42AAD) -- (n42AB2);
    \draw[tip] (n42AAD) -- (n4298C);
    \draw[tip] (n42AB2) -- (n42AD0);
    \draw[tip] (n42AD0.-15) to[selfloop] (n42AD0.15);
    \draw[tip] (n42AD0) -- (n42ADD);
    \draw[tip] (n4298C) -- (n42997);
    \draw[tip] (n42997) -- (n429A0);
    \draw[tip] (n429A0) -- (n429A5);
    \draw[tip] (n429A5) -- (n429B5);
    \draw[tip] (n429B5.-15) to[selfloop] (n429B5.15);
    \draw[tip] (n429B5) -- (n429C0);
    \draw[tip] (n429C0) -- (n429C2);
    \draw[tip] (n429C2) -- (n429CB);
    \draw[tip] (n48098) -- (n480A1);
    \draw[tip] (n480A1) -- (n480A8);
    \draw[tip] (n43E76) -- (n410A0);
    \draw[tip] (n480F0) -- (n480F9);
    \draw[tip] (n480F0) -- (n48103);
    \draw[tip] (n480F9) -- (n43760);
    \draw[tip] (n480F9) -- (n48103);
    \draw[tip] (n43760) -- (n43767);
    \draw[tip] (n43767) -- (n43EAC);
    \draw[tip] ([xshift=-9pt]n43767.south) -- ([xshift=-9pt]n43771.north);
    \draw[tip] ([xshift=9pt]n43771.north) -- ([xshift=9pt]n43767.south);
    \draw[tip] (n43771) -- (n43777);
    \draw[tip] (n43EAC) -- (n43EB0);
    \draw[tip] (n43EAC) -- (n43ED3);
    \draw[tip] (n43EB0) -- (n43EB8);
    \draw[tip] (n43EB8) -- (n43EC3);
    \draw[tip] (n43EC3) -- (n41098);
    \draw[curvy] (n436B8) -- (4474,763) -- (4476,912) -- (n43719.68);
    \draw[curvy] (n436C8) -- (4398,846) -- (n436FB.72);
    \draw[curvy] (n429DD) -- (5333,416) -- (n429E8.45);
    \draw[curvy] (n429E8) -- (5217,607) -- (n42A24.135);
    \draw[curvy] (n42A24) -- (5335,799) -- (n42A36.48);
    \draw[curvy] (n42A36) -- (5342,983) -- (n42A75.114);
    \draw[curvy] (n42A75) -- (5400,990) -- (5407,921) -- (5407,393) -- (5420,320) -- (n42A82.-125);
    \draw[curvy] (n42A7D) -- (5797,1136) -- (5861,1030) -- (5861,408) -- (5848,342) -- (5797,291) -- (5684,265) -- (n42A82.-15);
    \draw[curvy] (n42997) -- (5633,612) -- (n429A5.north);
    \draw[curvy] (n429A0) -- (5723,727) -- (n429C2.north);
    \draw[curvy] (n429C2) -- (5808,819) -- (5808,651) -- (5793,600) -- (n42997.-30);
    \draw[curvy] (n429A5) -- (5650,804) -- (n429C0.north);
    \draw[curvy] (n48098) -- (5728,127) -- (n480A8.64);
\end{tikzpicture}
\end{document}
